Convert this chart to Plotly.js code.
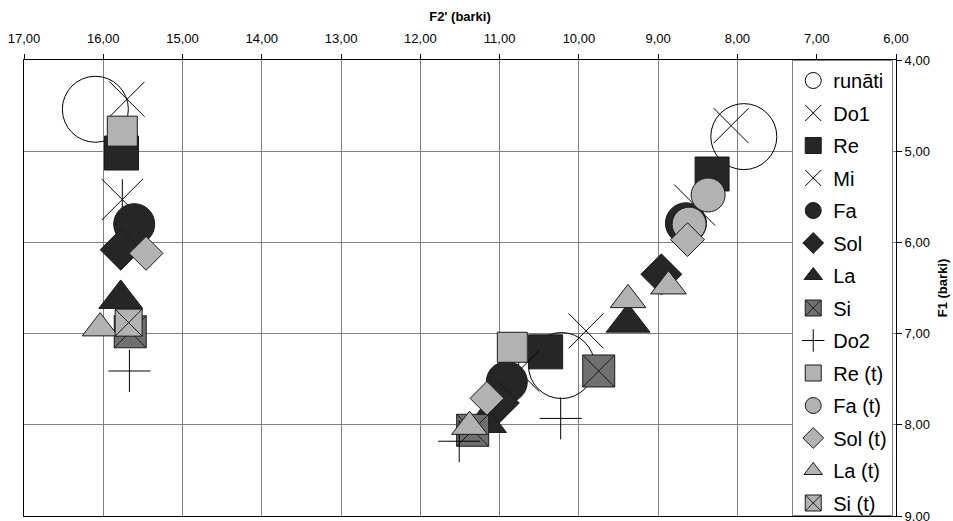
<!DOCTYPE html>
<html>
<head>
<meta charset="utf-8">
<script src="https://cdn.plot.ly/plotly-3.0.1.min.js"></script>
<style>html,body{margin:0;padding:0;background:#fff;}#chart{width:953px;height:521px;}</style>
</head>
<body>
<div id="chart"></div>
<script>
// Series names (legend)
const seriesNames = ['runāti', 'Do1', 'Re', 'Mi', 'Fa', 'Sol', 'La', 'Si', 'Do2', 'Re (t)', 'Fa (t)', 'Sol (t)', 'La (t)', 'Si (t)'];

// F2' (barki) values
const runatiX = [16.10, 7.92, 10.22];
const do1X    = [15.70, 8.08, 9.91];
const reX     = [15.77, 8.32, 10.42];
const miX     = [15.76, 8.54, 10.76];
const faX     = [15.61, 8.65, 10.91];
const solX    = [15.78, 8.96, 11.01];
const laX     = [15.78, 9.38, 11.19];
const siX     = [15.66, 9.75, 11.34];
const do2X    = [15.67, 10.23, 11.51];
const reTX    = [15.76, 10.84];
const faTX    = [8.37, 8.61];
const solTX   = [15.46, 8.63, 11.16];
const laTX    = [16.04, 11.38, 8.87, 9.38];
const siTX    = [15.68];

// F1 (barki) values
const runatiY = [4.54, 4.84, 7.35];
const do1Y    = [4.43, 4.72, 6.97];
const reY     = [5.02, 5.25, 7.20];
const miY     = [5.53, 5.59, 7.41];
const faY     = [5.80, 5.79, 7.53];
const solY    = [6.08, 6.35, 7.76];
const laY     = [6.62, 6.88, 7.98];
const siY     = [6.98, 7.41, 8.06];
const do2Y    = [7.41, 7.93, 8.18];
const reTY    = [4.78, 7.15];
const faTY    = [5.48, 5.80];
const solTY   = [6.12, 5.97, 7.71];
const laTY    = [6.94, 8.02, 6.48, 6.63];
const siTY    = [6.88];

// Axis ticks
const xTicks = [17, 16, 15, 14, 13, 12, 11, 10, 9, 8, 7, 6];
const yTicks = [4, 5, 6, 7, 8, 9];

const DARK = '#262626', GREY = '#b2b2b2', MID = '#707070', EDGE = '#1a1a1a';

function tr(name, x, y, symbol, size, fill, opts) {
  opts = opts || {};
  const open = opts.open;
  return {
    type: 'scatter', mode: 'markers', name: name, x: x, y: y,
    legendgroup: opts.group || name,
    showlegend: opts.showlegend !== false,
    cliponaxis: false,
    marker: {
      symbol: symbol, size: size,
      color: open ? '#000' : fill,
      line: {color: open ? '#000' : EDGE, width: opts.lw || 1}
    },
    hoverinfo: 'skip'
  };
}

const data = [
  tr(seriesNames[0], runatiX, runatiY, 'circle-open', 66, null, {open: true}),
  tr(seriesNames[1], do1X, do1Y, 'x-thin-open', 35, null, {open: true}),
  tr(seriesNames[2], reX, reY, 'square', 34, DARK),
  tr(seriesNames[3], miX, miY, 'x-thin-open', 41, null, {open: true, group: 'Mi'}),
  tr(seriesNames[3] + '_v', miX, miY, 'line-ns-open', 29, null, {open: true, group: 'Mi', showlegend: false}),
  tr(seriesNames[4], faX, faY, 'circle', 41, DARK),
  tr(seriesNames[5], solX, solY, 'diamond', 31.5, DARK),
  tr(seriesNames[6], laX, laY, 'triangle-up', 38, DARK),
  tr(seriesNames[7], siX, siY, 'square-x', 32, MID),
  tr(seriesNames[8], do2X, do2Y, 'cross-thin-open', 30, null, {open: true}),
  tr(seriesNames[9], reTX, reTY, 'square', 30, GREY),
  tr(seriesNames[10], faTX, faTY, 'circle', 34, GREY),
  tr(seriesNames[11], solTX, solTY, 'diamond', 26, GREY),
  tr(seriesNames[12], laTX, laTY, 'triangle-up', 31, GREY),
  tr(seriesNames[13], siTX, siTY, 'square-x', 27, GREY)
];

const axisFont = {family: 'Liberation Sans, Arial, sans-serif', size: 13, color: '#000'};
const layout = {
  width: 953, height: 521,
  margin: {l: 24, r: 57, t: 60, b: 5, pad: 0},
  paper_bgcolor: '#fff', plot_bgcolor: '#fff',
  separators: ', ',
  font: axisFont,
  showlegend: true,
  xaxis: {
    side: 'top', range: [17, 6], tickvals: xTicks, tickformat: '.2f',
    ticks: 'outside', ticklen: 5, tickcolor: '#000', tickwidth: 1,
    ticklabelstandoff: 6, ticklabeloverflow: 'allow',
    showline: true, linecolor: '#000', linewidth: 1, mirror: true,
    showgrid: true, gridcolor: '#808080', gridwidth: 1, zeroline: false,
    tickfont: axisFont,
    title: {text: "<b>F2' (barki)</b>", font: {family: 'Liberation Sans, Arial, sans-serif', size: 13, color: '#000'}, standoff: 6}
  },
  yaxis: {
    side: 'right', range: [9, 4], tickvals: yTicks, tickformat: '.2f',
    ticks: 'outside', ticklen: 5, tickcolor: '#000', tickwidth: 1,
    ticklabeloverflow: 'allow',
    showline: true, linecolor: '#000', linewidth: 1, mirror: true,
    showgrid: true, gridcolor: '#808080', gridwidth: 1, zeroline: false,
    tickfont: axisFont,
    title: {text: '<b>F1 (barki)</b>', font: {family: 'Liberation Sans, Arial, sans-serif', size: 13, color: '#000'}, standoff: 8}
  },
  legend: {
    x: 0.881, y: 1, xanchor: 'left', yanchor: 'top',
    bgcolor: '#fff', bordercolor: '#808080', borderwidth: 1,
    font: {family: 'Liberation Sans, Arial, sans-serif', size: 20, color: '#000'},
    tracegroupgap: 3.5,
    itemsizing: 'trace'
  }
};

Plotly.newPlot('chart', data, layout, {staticPlot: true, displayModeBar: false});
</script>
</body>
</html>
